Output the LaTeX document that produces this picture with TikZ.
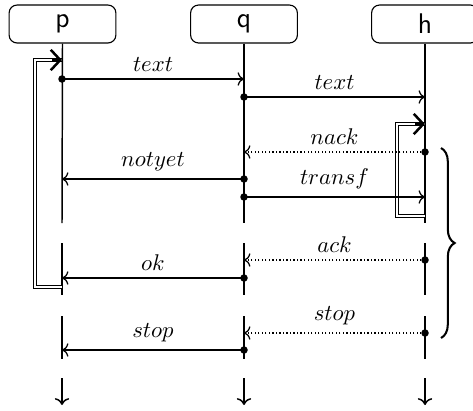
\documentclass[tikz,border=0pt]{standalone}
\usetikzlibrary{arrows.meta,decorations.pathreplacing}
\begin{document}
\begin{tikzpicture}[x=0.44pt,y=-0.44pt,
  head/.style={draw, rounded corners=3.5pt, minimum width=47pt, minimum height=16.7pt, inner sep=0pt, font=\sffamily\fontsize{12.5}{14}\selectfont, line width=0.5pt},
  life/.style={line width=0.65pt},
  msg/.style={->, line width=0.55pt},
  reply/.style={->, line width=0.55pt, densely dotted},
  lbl/.style={midway, above, inner sep=3.2pt},
  dot/.style={circle, fill, inner sep=0pt, minimum size=3.3pt},
  act/.style={double, line width=0.5pt, double distance=0.9pt},
  acttip/.style={line width=1.1pt, -{Straight Barb[length=4.2pt,width=9pt]}},
  bracestyle/.style={decorate, decoration={brace, amplitude=6pt}, line width=0.9pt}]
\useasboundingbox (0,0) rectangle (473,410);
% headers
\node[head] (p) at (62.5,24) {p};
\node[head] (q) at (244,24) {q};
\node[head] (h) at (425,24) {h};
% lifelines
\foreach \n/\x in {p/62,q/244,h/425}{
  \coordinate (\n e1) at (\x,223);
  \coordinate (\n s2) at (\x,243);
  \coordinate (\n e2) at (\x,295);
  \coordinate (\n s3) at (\x,316);
  \coordinate (\n e3) at (\x,359);
  \coordinate (\n s4) at (\x,378);
  \coordinate (\n e4) at (\x,405);
  \draw[life] (\n.south) -- (\n e1);
  \draw[life] (\n s2) -- (\n e2);
  \draw[life] (\n s3) -- (\n e3);
  \draw[life,->] (\n s4) -- (\n e4);
}
% activations
\coordinate (pa1) at (62,287);
\coordinate (pa2) at (35,287);
\coordinate (pa3) at (35,60);
\coordinate (pa4) at (62,60);
\coordinate (pa5) at (52,60);
\draw[act] (pa1) -- (pa2) -- (pa3) -- (pa4);
\draw[acttip] (pa5) -- (pa4);
\coordinate (ha1) at (425,216);
\coordinate (ha2) at (397,216);
\coordinate (ha3) at (397,124);
\coordinate (ha4) at (425,124);
\coordinate (ha5) at (415,124);
\draw[act] (ha1) -- (ha2) -- (ha3) -- (ha4);
\draw[acttip] (ha5) -- (ha4);
% message points
\coordinate (pA) at (62,79);   \coordinate (qA) at (244,79);
\coordinate (qB) at (244,97);  \coordinate (hB) at (425,97);
\coordinate (hC) at (425,152); \coordinate (qC) at (244,152);
\coordinate (qD) at (244,179); \coordinate (pD) at (62,179);
\coordinate (qE) at (244,197); \coordinate (hE) at (425,197);
\coordinate (hF) at (425,260); \coordinate (qF) at (244,260);
\coordinate (qG) at (244,278); \coordinate (pG) at (62,278);
\coordinate (hH) at (425,333); \coordinate (qH) at (244,333);
\coordinate (qI) at (244,350); \coordinate (pI) at (62,350);
% messages
\draw[msg] (pA) -- node[lbl] (l1) {$text$} (qA);
\draw[msg] (qB) -- node[lbl] (l2) {$text$} (hB);
\draw[reply] (hC) -- node[lbl] (l3) {$nack$} (qC);
\draw[msg] (qD) -- node[lbl] (l4) {$notyet$} (pD);
\draw[msg] (qE) -- node[lbl] (l5) {$transf$} (hE);
\draw[reply] (hF) -- node[lbl] (l6) {$ack$} (qF);
\draw[msg] (qG) -- node[lbl] (l7) {$ok$} (pG);
\draw[reply] (hH) -- node[lbl] (l8) {$stop$} (qH);
\draw[msg] (qI) -- node[lbl] (l9) {$stop$} (pI);
% dots
\foreach \c in {pA,qB,hC,qD,qE,hF,qG,hH,qI}{
  \node[dot] at (\c) {};
}
% brace
\coordinate (b1) at (441,148);
\coordinate (b2) at (441,338);
\draw[bracestyle] (b1) -- (b2);
\end{tikzpicture}
\end{document}
